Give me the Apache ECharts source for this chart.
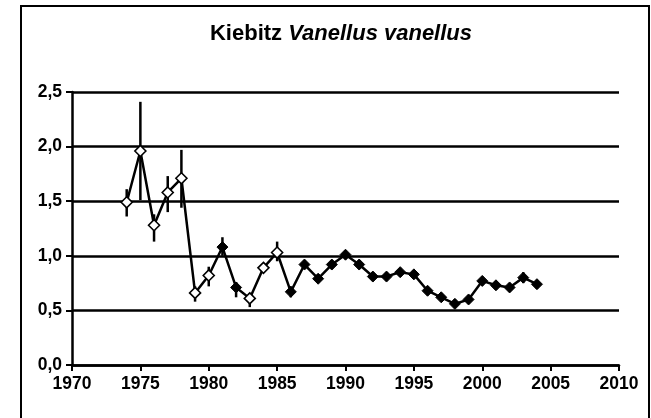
<!DOCTYPE html>
<html>
<head>
<meta charset="utf-8">
<script src="https://cdn.jsdelivr.net/npm/echarts@6/dist/echarts.min.js"></script>
<style>
  html, body { margin: 0; padding: 0; background: #fff; }
  #chart { width: 651px; height: 418px; }
</style>
</head>
<body>
<div id="chart"></div>
<script>
const years = [1974, 1975, 1976, 1977, 1978, 1979, 1980, 1981, 1982, 1983, 1984, 1985, 1986, 1987, 1988, 1989,
  1990, 1991, 1992, 1993, 1994, 1995, 1996, 1997, 1998, 1999, 2000, 2001, 2002, 2003, 2004];
const values = [1.49, 1.96, 1.28, 1.58, 1.71, 0.66, 0.82, 1.08, 0.71, 0.61, 0.89, 1.03, 0.67, 0.92, 0.79, 0.92,
  1.01, 0.92, 0.81, 0.81, 0.85, 0.83, 0.68, 0.62, 0.56, 0.60, 0.77, 0.73, 0.71, 0.80, 0.74];
const lower = [1.36, 1.51, 1.13, 1.40, 1.44, 0.58, 0.72, 1.00, 0.62, 0.53, 0.85, 0.95, 0.62, 0.88, 0.75, 0.88,
  0.97, 0.88, 0.77, 0.77, 0.81, 0.79, 0.64, 0.58, 0.52, 0.56, 0.73, 0.69, 0.67, 0.75, 0.70];
const upper = [1.61, 2.41, 1.38, 1.73, 1.97, 0.72, 0.90, 1.17, 0.76, 0.66, 0.93, 1.13, 0.72, 0.96, 0.83, 0.96,
  1.05, 0.96, 0.85, 0.85, 0.89, 0.87, 0.72, 0.66, 0.60, 0.64, 0.81, 0.77, 0.75, 0.85, 0.78];
// open (hollow) markers
const hollow = [1, 1, 1, 1, 1, 1, 1, 0, 0, 1, 1, 1, 0, 0, 0, 0, 0, 0, 0, 0, 0, 0, 0, 0, 0, 0, 0, 0, 0, 0, 0];
const xTicks = [1970, 1975, 1980, 1985, 1990, 1995, 2000, 2005, 2010];
const yTicks = [0, 0.5, 1, 1.5, 2, 2.5];

const font = "'Liberation Sans', Arial, sans-serif";
const chart = echarts.init(document.getElementById('chart'), null, { renderer: 'canvas' });

const points = years.map((y, i) => ({
  value: [y, values[i]],
  itemStyle: hollow[i]
    ? { color: '#fff', borderColor: '#000', borderWidth: 1.6 }
    : { color: '#000', borderColor: '#000', borderWidth: 1 }
}));
const bars = years.map((y, i) => [y, lower[i], upper[i]]);

chart.setOption({
  animation: false,
  title: {
    text: '{a|Kiebitz }{b|Vanellus vanellus}',
    left: 336,
    top: 18,
    textAlign: 'center',
    textStyle: {
      rich: {
        a: { fontFamily: font, fontWeight: 'bold', fontSize: 22, color: '#000' },
        b: { fontFamily: font, fontWeight: 'bold', fontStyle: 'italic', fontSize: 22, color: '#000' }
      }
    }
  },
  graphic: [{
    type: 'rect',
    shape: { x: 21, y: 6, width: 628, height: 430 },
    style: { fill: 'none', stroke: '#000', lineWidth: 2 },
    silent: true
  }],
  grid: { left: 72, right: 32, top: 92, bottom: 53 },
  xAxis: {
    type: 'value',
    min: xTicks[0],
    max: xTicks[xTicks.length - 1],
    interval: 5,
    axisLine: { onZero: false, lineStyle: { color: '#000', width: 2.5 } },
    axisTick: { length: 6, lineStyle: { color: '#000', width: 2 } },
    axisLabel: {
      margin: 10, color: '#000', fontFamily: font, fontWeight: 'bold', fontSize: 17.5,
      formatter: v => String(v)
    },
    splitLine: { show: false }
  },
  yAxis: {
    type: 'value',
    min: yTicks[0],
    max: yTicks[yTicks.length - 1],
    interval: 0.5,
    axisLine: { show: true, lineStyle: { color: '#000', width: 2.5 } },
    axisTick: { show: true, length: 6, lineStyle: { color: '#000', width: 2 } },
    axisLabel: {
      margin: 10, color: '#000', fontFamily: font, fontWeight: 'bold', fontSize: 17.5,
      formatter: v => v.toFixed(1).replace('.', ',')
    },
    splitLine: { show: true, lineStyle: { color: '#000', width: 2.5 } }
  },
  series: [
    {
      type: 'custom',
      z: 1,
      data: bars,
      renderItem: (params, api) => {
        const x = api.value(0);
        const lo = api.coord([x, api.value(1)]);
        const hi = api.coord([x, api.value(2)]);
        return {
          type: 'line',
          shape: { x1: lo[0], y1: lo[1], x2: hi[0], y2: hi[1] },
          style: { stroke: '#000', lineWidth: 2.5 }
        };
      }
    },
    {
      type: 'line',
      z: 3,
      data: points,
      symbol: 'diamond',
      symbolSize: 11,
      showAllSymbol: true,
      lineStyle: { color: '#000', width: 2.5 }
    }
  ]
});
</script>
</body>
</html>
